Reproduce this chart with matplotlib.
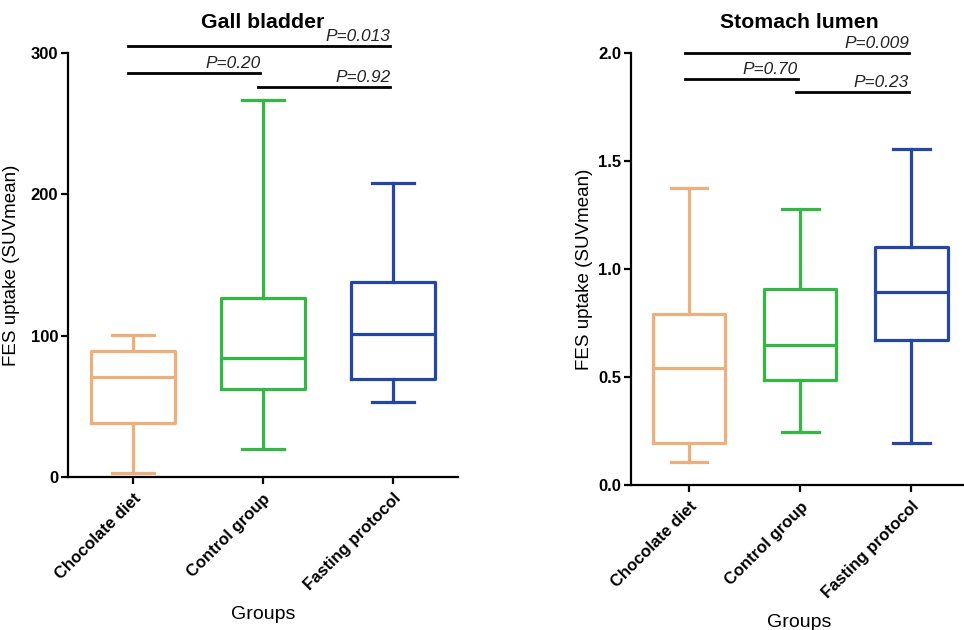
import matplotlib
matplotlib.use("Agg")
import matplotlib.pyplot as plt

plt.rcParams['font.family'] = ['Liberation Sans', 'DejaVu Sans']

groups = ["Chocolate diet", "Control group", "Fasting protocol"]
colors = ["#EDB07C", "#33B843", "#2447A6"]

# Gall bladder: whisker low, Q1, median, Q3, whisker high
gb_low = [2.5, 20, 53]
gb_q1 = [38, 62.5, 69]
gb_med = [70.5, 84.5, 101.5]
gb_q3 = [89.5, 126.5, 138]
gb_high = [100.5, 267, 208]

# Stomach lumen
st_low = [0.107, 0.247, 0.196]
st_q1 = [0.194, 0.488, 0.673]
st_med = [0.543, 0.647, 0.894]
st_q3 = [0.79, 0.907, 1.10]
st_high = [1.376, 1.276, 1.556]

gb_pvals = ["P=0.013", "P=0.20", "P=0.92"]
gb_pline_y = [305, 286, 276]
st_pvals = ["P=0.009", "P=0.70", "P=0.23"]
st_pline_y = [2.0, 1.88, 1.82]
pairs = [(1, 3), (1, 2), (2, 3)]

gb_ticks = [0, 100, 200, 300]
gb_ticklabels = ["0", "100", "200", "300"]
st_ticks = [0.0, 0.5, 1.0, 1.5, 2.0]
st_ticklabels = ["0.0", "0.5", "1.0", "1.5", "2.0"]

fig = plt.figure(figsize=(9.64, 6.3), dpi=100)
ax1 = fig.add_axes([68/964, 1-477/630, (458-68)/964, (477-53)/630])
ax2 = fig.add_axes([631/964, 1-485/630, (967-631)/964, (485-53)/630])


def draw(ax, low, q1, med, q3, high, title, ticks, ticklabels, ylim, xlim,
         pvals, plys, pad_text):
    stats = []
    for i in range(3):
        stats.append(dict(whislo=low[i], q1=q1[i], med=med[i], q3=q3[i],
                          whishi=high[i], fliers=[], label=groups[i]))
    bp = ax.bxp(stats, positions=[1, 2, 3], widths=0.65, showfliers=False,
                patch_artist=False, manage_ticks=False)
    lw = 2.3
    for i in range(3):
        c = colors[i]
        bp['boxes'][i].set(color=c, linewidth=lw)
        bp['medians'][i].set(color=c, linewidth=lw)
        for k in (2*i, 2*i+1):
            bp['whiskers'][k].set(color=c, linewidth=lw)
            bp['caps'][k].set(color=c, linewidth=lw)
            xd = bp['caps'][k].get_xdata()
            cx = (xd[0] + xd[1]) / 2
            bp['caps'][k].set_xdata([cx - 0.165, cx + 0.165])
    ax.set_xlim(*xlim)
    ax.set_ylim(*ylim)
    ax.set_xticks([1, 2, 3])
    ax.set_xticklabels(groups, rotation=45, ha='right', rotation_mode='anchor',
                       fontsize=12, fontweight='bold')
    ax.set_yticks(ticks)
    ax.set_yticklabels(ticklabels, fontsize=12, fontweight='bold')
    ax.tick_params(axis='both', direction='out', length=5, width=1.6, pad=2)
    ax.tick_params(axis='x', pad=5)
    for s in ('top', 'right'):
        ax.spines[s].set_visible(False)
    for s in ('left', 'bottom'):
        ax.spines[s].set_linewidth(1.6)
    ax.set_ylabel("FES uptake (SUVmean)", fontsize=13.5)
    ax.set_xlabel("Groups", fontsize=14, labelpad=9)
    ax.set_title(title, fontsize=15.3, fontweight='bold', pad=18)
    for (a, b), y, p in zip(pairs, plys, pvals):
        x0 = a - 0.04
        x1 = b - 0.02
        ax.plot([x0, x1], [y, y], color='black', linewidth=2.0, clip_on=False)
        ax.text(x1, y + pad_text, p, ha='right', va='bottom', fontsize=12.4,
                style='italic', color='#222222', clip_on=False)


draw(ax1, gb_low, gb_q1, gb_med, gb_q3, gb_high, "Gall bladder",
     gb_ticks, gb_ticklabels, (0, 300), (0.5, 3.5), gb_pvals, gb_pline_y, 1.5)
draw(ax2, st_low, st_q1, st_med, st_q3, st_high, "Stomach lumen",
     st_ticks, st_ticklabels, (0, 2.0), (0.478, 3.5), st_pvals, st_pline_y, 0.01)

ax1.yaxis.set_label_coords(-0.123, 0.5)
ax2.yaxis.set_label_coords(-0.113, 0.5)

fig.savefig("out.png", dpi=100)
